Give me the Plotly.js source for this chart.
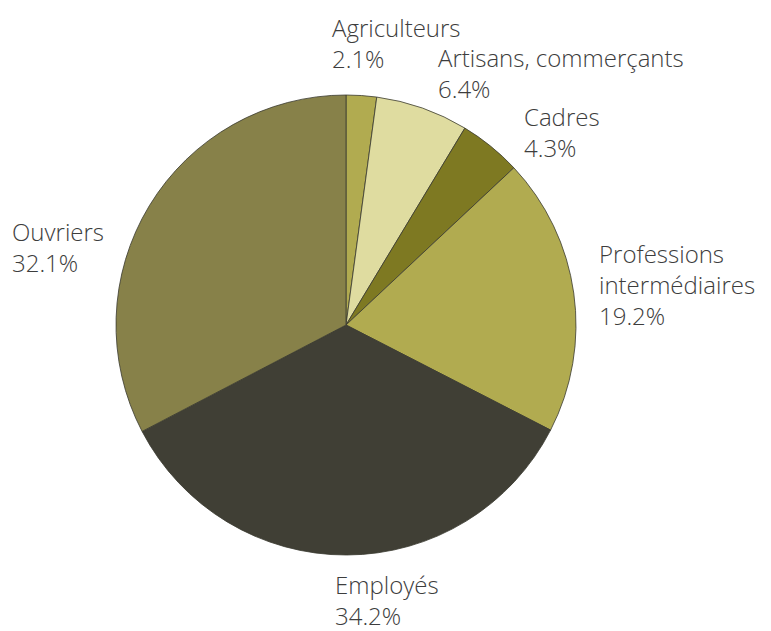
<!DOCTYPE html>
<html>
<head>
<meta charset="utf-8">
<script src="https://cdn.plot.ly/plotly-3.0.1.min.js"></script>
<style>html,body{margin:0;padding:0;background:#fff;}#chart{width:771px;height:631px;}</style>
</head>
<body>
<div id="chart"></div>
<script>
const categories = ["Agriculteurs", "Artisans, commerçants", "Cadres", "Professions intermédiaires", "Employés", "Ouvriers"];
const displayLabels = ["Agriculteurs", "Artisans, commerçants", "Cadres", "Professions<br>intermédiaires", "Employés", "Ouvriers"];
const values = [2.1, 6.4, 4.3, 19.2, 34.2, 32.1];
const colors = ["#b1ab50", "#dfdca0", "#7e7922", "#b1ab50", "#403f35", "#878149"];
// label anchor positions (pixels, top-left of text block)
const labelPos = [[330, 9], [436, 39], [522, 98], [597, 235], [333, 566], [10, 213]];

const W = 771, H = 631;
const cx = 346, cy = 325, r = 230;

const trace = {
  type: "pie",
  labels: categories,
  values: values,
  sort: false,
  direction: "clockwise",
  rotation: 0,
  textinfo: "none",
  hoverinfo: "label+value",
  marker: { colors: colors, line: { color: "#3a3a30", width: 0.8 } },
  domain: { x: [(cx - r) / W, (cx + r) / W], y: [1 - (cy + r) / H, 1 - (cy - r) / H] },
  showlegend: false
};

const annotations = categories.map((c, i) => ({
  xref: "paper", yref: "paper",
  x: labelPos[i][0] / W, y: 1 - labelPos[i][1] / H,
  xanchor: "left", yanchor: "top", align: "left",
  showarrow: false,
  text: displayLabels[i] + "<br>" + values[i].toFixed(1) + "%",
  font: { family: "'Open Sans', Lato, sans-serif", size: 24, color: "#3d3d3d", weight: 300 }
}));

Plotly.newPlot("chart", [trace], {
  width: W, height: H,
  margin: { l: 0, r: 0, t: 0, b: 0 },
  paper_bgcolor: "#ffffff",
  annotations: annotations
}, { staticPlot: true });
</script>
</body>
</html>
